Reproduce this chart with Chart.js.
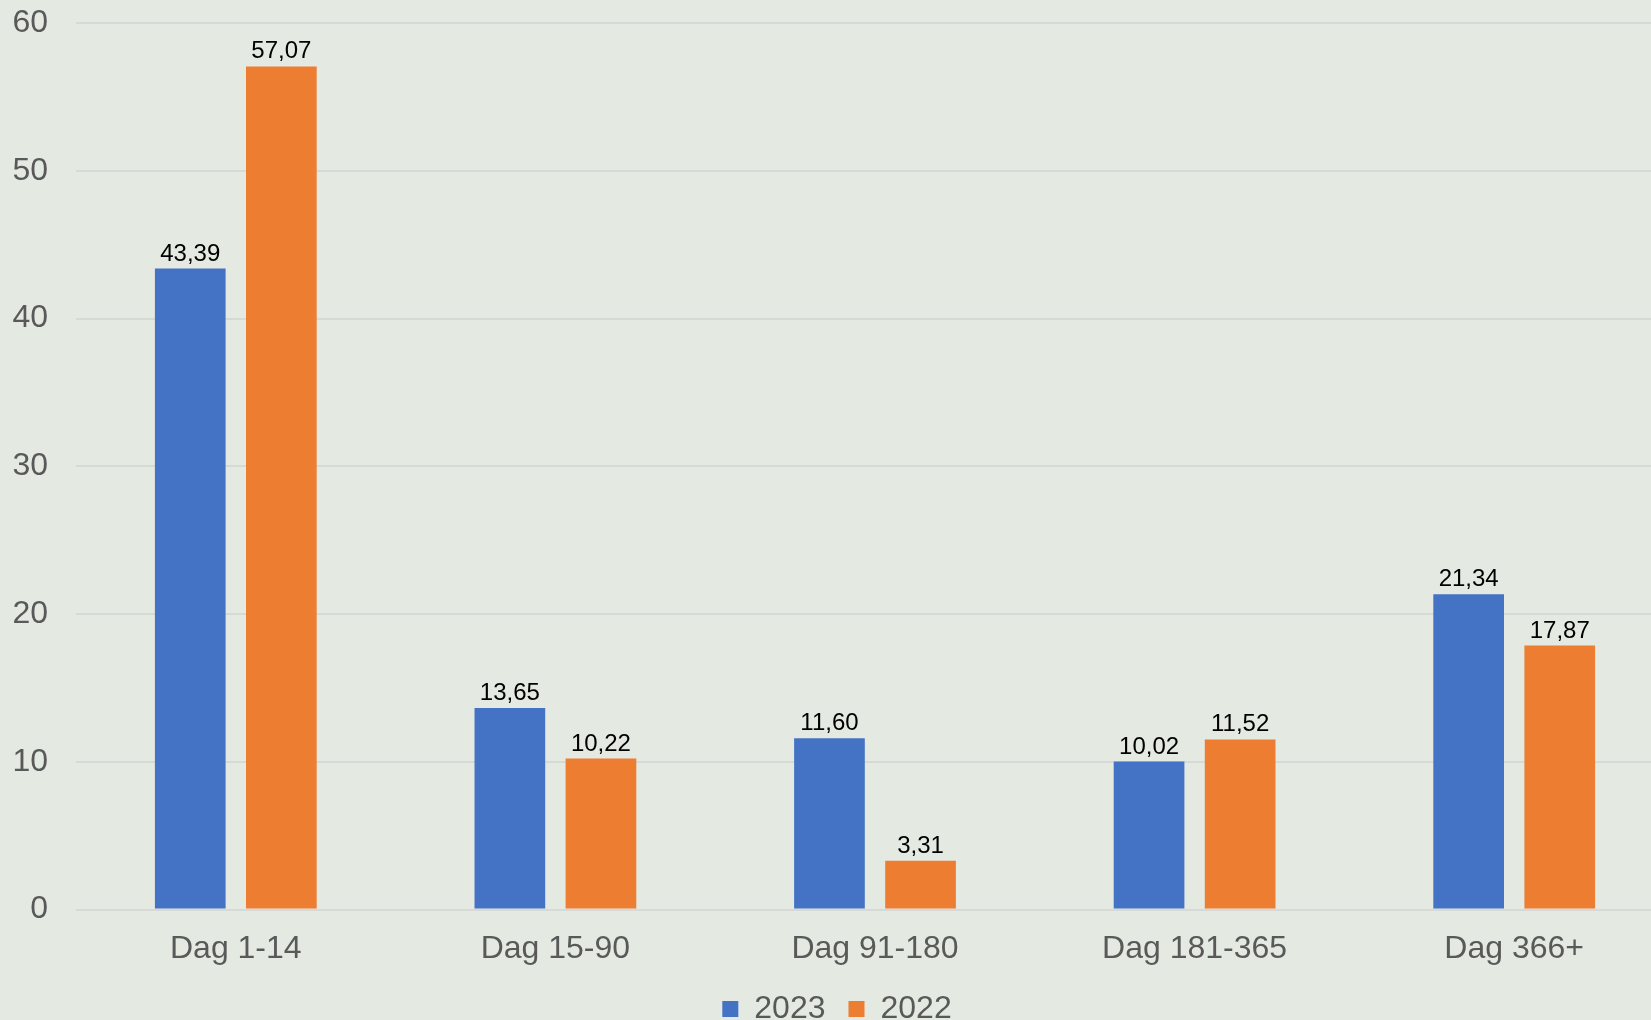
<!DOCTYPE html>
<html>
<head>
<meta charset="utf-8">
<script src="https://cdn.jsdelivr.net/npm/chart.js@4"></script>
<style>
  html,body{margin:0;padding:0;background:#e4e9e2;overflow:hidden;}
  #wrap{width:1675px;height:1059px;position:relative;top:-24px;}
</style>
</head>
<body>
<div id="wrap"><canvas id="chart"></canvas></div>
<script>
// Data
const categories=['Dag 1-14','Dag 15-90','Dag 91-180','Dag 181-365','Dag 366+'];
const series2023=[43.39,13.65,11.60,10.02,21.34];
const series2022=[57.07,10.22,3.31,11.52,17.87];
const seriesNames=['2023','2022'];

const FONT='"Liberation Sans", Arial, sans-serif';
const fmt=v=>v.toFixed(2).replace('.',',');

// value labels above bars
const valueLabels={
  id:'valueLabels',
  afterDatasetsDraw(chart){
    const {ctx}=chart;
    ctx.save();
    ctx.font=`24px ${FONT}`; ctx.fillStyle='#000'; ctx.textAlign='center'; ctx.textBaseline='alphabetic';
    chart.data.datasets.forEach((ds,i)=>{
      chart.getDatasetMeta(i).data.forEach((bar,j)=>ctx.fillText(fmt(ds.data[j]), bar.x, bar.y-8));
    });
    ctx.restore();
  }
};

new Chart(document.getElementById('chart'),{
  type:'bar',
  data:{labels:categories, datasets:[
    {label:seriesNames[0], data:series2023, backgroundColor:'#4472C4', barPercentage:0.776, categoryPercentage:0.57},
    {label:seriesNames[1], data:series2022, backgroundColor:'#ED7D31', barPercentage:0.776, categoryPercentage:0.57}
  ]},
  options:{
    responsive:true, maintainAspectRatio:false, animation:false,
    layout:{padding:{left:0,top:3,right:1,bottom:0}},
    plugins:{
      tooltip:{enabled:false},
      legend:{position:'bottom', labels:{boxWidth:16, boxHeight:16, padding:23, color:'#595959', font:{family:FONT,size:32}}}
    },
    scales:{
      x:{grid:{display:false, drawTicks:false}, border:{display:false},
         ticks:{color:'#595959', padding:20, font:{family:FONT,size:32}},
         afterFit(scale){ scale.height-=18; }},
      y:{min:0, max:60, border:{display:false},
         grid:{color:'#d6d9d5', lineWidth:2, drawTicks:false},
         ticks:{stepSize:10, color:'#595959', padding:28, font:{family:FONT,size:32}},
         afterFit(scale){ scale.width=76; }}
    }
  },
  plugins:[valueLabels]
});
</script>
</body>
</html>
